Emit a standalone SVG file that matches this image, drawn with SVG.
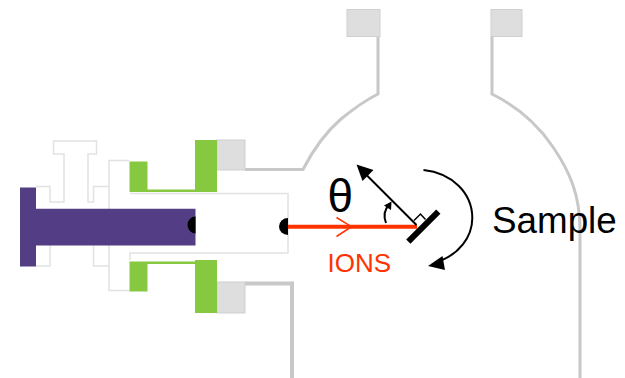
<svg xmlns="http://www.w3.org/2000/svg" width="625" height="378" viewBox="0 0 625 378">
<style>
.wall{fill:none;stroke:#c8c8c8;stroke-width:3}
.gray{fill:#dedede;stroke:#cfcfcf;stroke-width:1}
.green{fill:#86c940}
.thin{fill:none;stroke:#e2e2e2;stroke-width:1.500}
.purple{fill:#533e85}
.ink{fill:none;stroke:#000;stroke-width:2}
text{font-family:"Liberation Sans",Arial,sans-serif}
</style>
<defs><filter id="soft" x="-5%" y="-5%" width="110%" height="110%"><feGaussianBlur stdDeviation="0.6"/></filter></defs>
<rect width="625" height="378" fill="#fff"/>
<g filter="url(#soft)">
<g id="chamber">
<path class="wall" d="M245 169.500H303C315 146 326 132 341 119C352 110 364 101 378 94V36"/>
<path class="wall" d="M492 36V94C516 106 536 122 553 147C570 172 580 195 580 230V378"/>
<path class="wall" style="stroke-width:4" d="M245 283.500H292V378"/>
<rect class="gray" x="347" y="9.500" width="33" height="27"/>
<rect class="gray" x="491" y="9.500" width="31" height="27"/>
<rect class="gray" x="217" y="140" width="28" height="30"/>
<rect class="gray" x="217" y="282" width="28" height="31"/>
</g>
<g id="flange">
<path class="thin" d="M36 186.500H50V202H64V154H53.500V141H96.500V154H88V202H93.500V186.500H109M36 266H50V245M93.500 245V266H109M109 266V160.500H129.500M109 266V290.500H129.500"/>
<path class="thin" d="M130 193.500H288V253H130V260"/>
</g>
<g id="green-seals">
<path class="green" d="M129.500 161.500H147.500V189.500H195V140H217V192H129.500Z"/>
<path class="green" d="M129.500 261.500H195V260H217V313H195V264H147.500V291.500H129.500Z"/>
</g>
<g id="ion-source">
<path class="purple" d="M20 187.500H36V208.700H195.500V245.500H36V266.500H20Z"/>
<path d="M195.500 216.500A8 8.500 0 0 0 195.500 233.500Z" fill="#000"/>
<path d="M288 218A9 8.500 0 0 0 288 235Z" fill="#000"/>
</g>
</g>
<g id="connectors">
<path d="M288 226.700H417" fill="none" stroke="#ff3300" stroke-width="4"/>
<path d="M336.500 217.500L351.500 226.700L336.500 236.500" fill="none" stroke="#ff3300" stroke-width="1.500"/>
<path class="ink" d="M416.500 225L364 172.500"/>
<path d="M356.500 164.500L373.500 170L362.500 181Z" fill="#000"/>
<path class="ink" d="M386 223C383 215 385 209 389 205"/>
<path d="M391.500 201.500L391 210L384 205.500Z" fill="#000"/>
<path class="ink" d="M423.500 170C452 173 472.300 193 472.300 218C472.300 238 458 254 440 261"/>
<path d="M428 266L442.500 256L445 270Z" fill="#000"/>
</g>
<g id="sample">
<path d="M408.300 241.700L438.300 211.700" stroke="#000" stroke-width="6" fill="none"/>
<path d="M414 220.500L420.500 214L425.500 219.500" fill="none" stroke="#000" stroke-width="1.500"/>
</g>
<text x="327.500" y="212" font-size="46" fill="#000">θ</text>
<text x="492" y="233" font-size="36.800" fill="#000">Sample</text>
<text x="327.500" y="272" font-size="26" fill="#ff3300">IONS</text>
</svg>
